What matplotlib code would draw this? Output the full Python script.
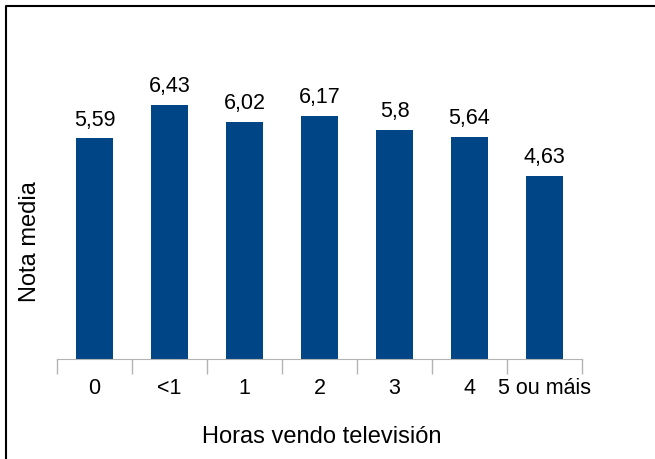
import matplotlib
matplotlib.use('Agg')
import matplotlib.pyplot as plt
from matplotlib.lines import Line2D

# categories and mean grades
horas = ['0', '<1', '1', '2', '3', '4', '5 ou máis']
nota = [5.59, 6.43, 6.02, 6.17, 5.8, 5.64, 4.63]
etiquetas = ['5,59', '6,43', '6,02', '6,17', '5,8', '5,64', '4,63']

plt.rcParams['font.family'] = ['Liberation Sans', 'DejaVu Sans']

W, H = 655, 459
fig = plt.figure(figsize=(W / 100, H / 100), dpi=100)

# axes placed in pixels: x 57..582, baseline 359, ylim 0..8
ymax = 8
px_per_unit = 39.45
top = 359 - ymax * px_per_unit
ax = fig.add_axes([57 / W, 1 - 359 / H, (582 - 57) / W, (359 - top) / H])

x = range(len(horas))
ax.bar(x, nota, width=0.5, color='#004586')
for i in x:
    ax.text(i, nota[i] + 0.2, etiquetas[i], ha='center', va='bottom', fontsize=15.5)

ax.set_xlim(-0.5, len(horas) - 0.5)
ax.set_ylim(0, ymax)

for s in ['top', 'right', 'left']:
    ax.spines[s].set_visible(False)
ax.spines['bottom'].set_color('#b3b3b3')
ax.set_yticks([])

# tick marks at category boundaries, labels centered under bars
ax.set_xticks([i - 0.5 for i in range(len(horas) + 1)])
ax.set_xticklabels([])
ax.tick_params(axis='x', length=11, color='#b3b3b3', width=1)
for i in x:
    ax.text(i, -0.75, horas[i], ha='center', va='center', fontsize=15.5,
            transform=ax.transData)

fig.text(322 / W, 1 - 437 / H, 'Horas vendo televisión', ha='center', va='center', fontsize=17)
fig.text(30 / W, 1 - 242 / H, 'Nota media', ha='center', va='center', rotation=90, fontsize=17)

# frame lines (only left and top visible in crop)
fig.add_artist(Line2D([5.5 / W, 5.5 / W, 1], [0, 1 - 6 / H, 1 - 6 / H],
                      color='black', linewidth=1.5, transform=fig.transFigure))

fig.savefig('out.png', dpi=100)
